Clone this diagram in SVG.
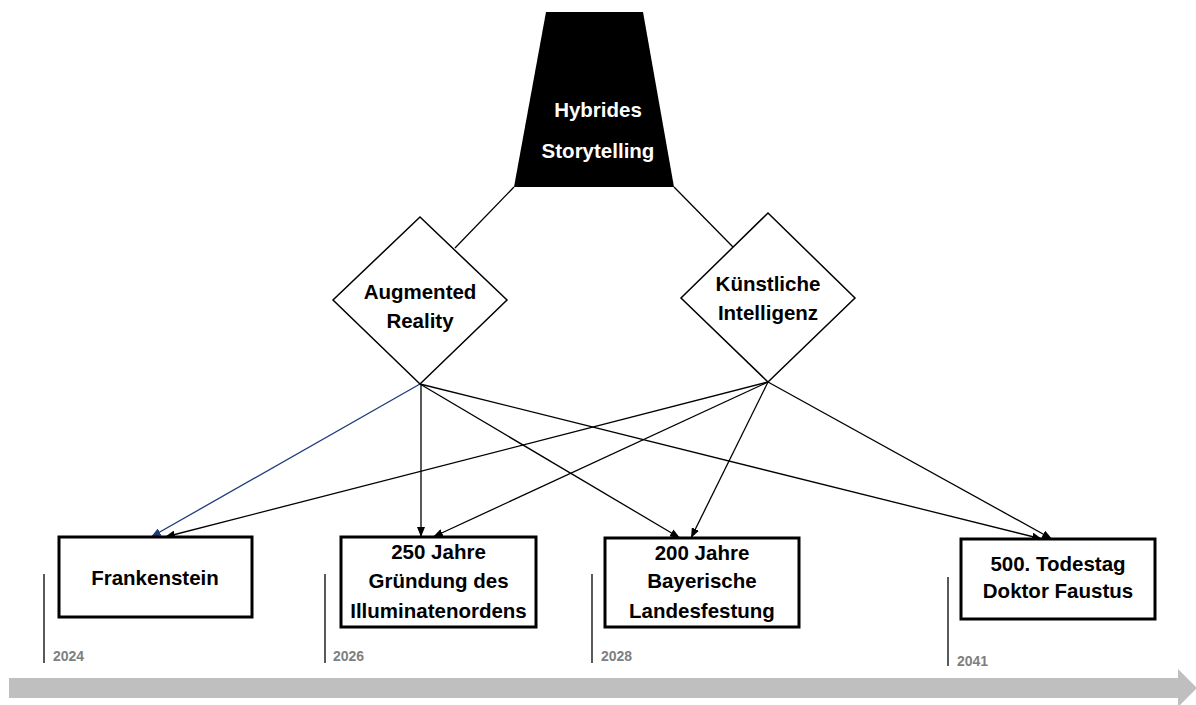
<svg xmlns="http://www.w3.org/2000/svg" width="1196" height="705" viewBox="0 0 1196 705">
<defs>
<style>
.lbl{font-family:"Liberation Sans",Arial,sans-serif;font-weight:bold;font-size:20.5px;fill:#000;text-anchor:middle}
.wlbl{font-family:"Liberation Sans",Arial,sans-serif;font-weight:bold;font-size:20.5px;fill:#fff;text-anchor:middle}
.yr{font-family:"Liberation Sans",Arial,sans-serif;font-weight:bold;font-size:14px;fill:#7f7f7f}
.box{fill:#fff;stroke:#000;stroke-width:3}
.dia{fill:#fff;stroke:#000;stroke-width:1.5}
.con{stroke:#000;stroke-width:1.3;fill:none}
.arr{stroke:#000;stroke-width:1.3;fill:none;marker-end:url(#ah)}
.arrb{stroke:#1f3b7a;stroke-width:1.3;fill:none;marker-end:url(#ahb)}
.tick{stroke:#000;stroke-width:1.3}
</style>
<marker id="ah" markerWidth="10" markerHeight="8" refX="10" refY="4" orient="auto" markerUnits="userSpaceOnUse">
<path d="M0,0 L10,4 L0,8 z" fill="#000"/>
</marker>
<marker id="ahb" markerWidth="10" markerHeight="8" refX="10" refY="4" orient="auto" markerUnits="userSpaceOnUse">
<path d="M0,0 L10,4 L0,8 z" fill="#1f3b7a"/>
</marker>
</defs>
<rect x="0" y="0" width="1196" height="705" fill="#fff"/>

<g id="timeline">
<path d="M9,678 L1178,678 L1178,669 L1197,688 L1178,707 L1178,698 L9,698 z" fill="#bfbfbf"/>
<line class="tick" x1="44" y1="574" x2="44" y2="663"/>
<text class="yr" x="53" y="661">2024</text>
<line class="tick" x1="325" y1="574" x2="325" y2="663"/>
<text class="yr" x="333" y="661">2026</text>
<line class="tick" x1="592" y1="574" x2="592" y2="663"/>
<text class="yr" x="601" y="661">2028</text>
<line class="tick" x1="948" y1="577" x2="948" y2="666"/>
<text class="yr" x="957" y="666">2041</text>
</g>

<g id="connectors">
<line class="con" x1="514" y1="187" x2="455" y2="248"/>
<line class="con" x1="674" y1="187" x2="733" y2="247"/>
<line class="arrb" x1="420" y1="384" x2="151" y2="537"/>
<line class="arr" x1="421" y1="384" x2="421" y2="537"/>
<line class="arr" x1="420" y1="384" x2="680" y2="538"/>
<line class="arr" x1="420" y1="384" x2="1042" y2="539"/>
<line class="arr" x1="768" y1="382" x2="165" y2="537"/>
<line class="arr" x1="768" y1="382" x2="433" y2="537"/>
<line class="arr" x1="768" y1="382" x2="691" y2="538"/>
<line class="arr" x1="768" y1="382" x2="1052" y2="539"/>
</g>

<g id="hybrides">
<polygon points="546,12 643,12 674,187 514,187" fill="#000"/>
<text class="wlbl" x="598" y="117">Hybrides</text>
<text class="wlbl" x="598" y="158">Storytelling</text>
</g>

<g id="ar">
<polygon class="dia" points="420,217 507,300 420,384 333,300"/>
<text class="lbl" x="420" y="299">Augmented</text>
<text class="lbl" x="420" y="328">Reality</text>
</g>

<g id="ki">
<polygon class="dia" points="768,213 855,298 768,382 681,298"/>
<text class="lbl" x="768" y="291">Künstliche</text>
<text class="lbl" x="768" y="320">Intelligenz</text>
</g>

<g id="frankenstein">
<rect class="box" x="59" y="537" width="193" height="80"/>
<text class="lbl" x="155" y="585">Frankenstein</text>
</g>

<g id="illuminaten">
<rect class="box" x="341" y="537" width="195" height="90"/>
<text class="lbl" x="438.5" y="559">250 Jahre</text>
<text class="lbl" x="438.5" y="588">Gründung des</text>
<text class="lbl" x="438.5" y="618">Illuminatenordens</text>
</g>

<g id="landesfestung">
<rect class="box" x="605" y="538" width="194" height="89"/>
<text class="lbl" x="702" y="560">200 Jahre</text>
<text class="lbl" x="702" y="588">Bayerische</text>
<text class="lbl" x="702" y="618">Landesfestung</text>
</g>

<g id="faustus">
<rect class="box" x="961" y="539" width="194" height="80"/>
<text class="lbl" x="1058" y="571">500. Todestag</text>
<text class="lbl" x="1058" y="598">Doktor Faustus</text>
</g>
</svg>
